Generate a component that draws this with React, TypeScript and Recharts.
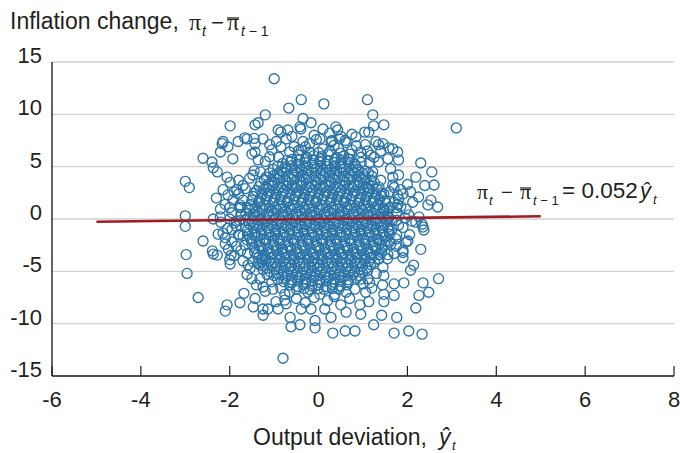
import { CartesianGrid, Scatter, ScatterChart, XAxis, YAxis } from "recharts";

type Pt = [number, number];

const xTicks = [-6, -4, -2, 0, 2, 4, 6, 8];
const yTicks = [-15, -10, -5, 0, 5, 10, 15];

// fitted line end points (slope 0.052)
const fitX = [-5, 5];
const fitY = [-0.26, 0.26];

// outlying points
const upperPoints: Pt[] = [
	[-1.0, 13.4], [-0.39, 11.4], [-0.67, 10.6], [0.12, 11.0], [1.1, 11.4], [-1.2, 9.95],
	[1.22, 9.95], [-1.99, 8.9], [-1.43, 9.0], [-1.36, 9.2], [1.24, 8.9], [1.47, 9.0],
	[1.13, 8.3], [3.1, 8.7], [-0.35, 9.6], [-0.17, 9.2], [-0.4, 8.6], [-0.42, 8.8],
	[0.1, 8.6], [0.03, 7.65], [-0.91, 8.5], [-0.85, 8.3], [-0.73, 7.65], [-0.69, 8.5],
	[0.39, 8.8], [0.43, 8.5], [0.47, 7.65], [0.84, 7.85], [1.04, 8.3], [-0.35, 7.4],
	[-0.39, 6.6], [0.28, 7.4], [-2.15, 7.4], [-2.17, 7.2], [-2.04, 6.9], [-1.81, 7.4],
	[-1.66, 7.75], [-1.61, 7.65], [-1.25, 7.65], [-1.43, 7.2], [-2.21, 6.4], [-1.93, 5.75],
	[-1.43, 6.4], [-1.36, 5.65], [1.35, 7.1], [1.58, 6.8], [1.78, 6.4], [1.8, 5.65],
	[1.56, 5.75], [1.29, 7.4], [1.45, 7.2], [1.67, 6.7], [1.18, 6.1], [1.35, 5.45],
	[-0.9, 5.9], [-0.65, 6.4], [0.7, 6.2], [0.95, 5.9], [1.15, 5.4], [-1.2, 5.5],
	[-0.3, 6.9], [0.1, 6.7], [0.45, 6.8], [0.85, 7.0], [-0.05, 7.6], [0.6, 7.5],
	[-1.5, 6.2], [-1.1, 7.1], [-0.55, 6.9], [0.3, 7.5], [0.62, 7.3], [1.1, 6.5],
	[-0.6, 7.9], [0.5, 7.9], [0.25, 8.2], [-0.1, 8.0], [0.75, 8.1], [-1.45, 7.7],
	[-1.05, 6.6], [-0.85, 6.9], [-0.7, 5.6], [-0.45, 6.55], [-0.2, 6.4], [0.0, 6.35],
	[0.25, 6.45], [0.5, 6.3], [0.75, 6.6], [0.95, 6.4], [1.05, 7.1], [-0.95, 7.4],
	[-0.2, 7.2], [0.35, 7.05], [0.7, 5.7], [-1.1, 5.95], [1.25, 5.9], [1.4, 6.5],
];

const leftPoints: Pt[] = [
	[-2.6, 5.8], [-2.4, 5.45], [-2.37, 4.9], [-2.28, 4.5], [-2.06, 4.0], [-1.99, 3.5],
	[-1.84, 2.8], [-2.04, 2.3], [-1.93, 1.8], [-1.77, 1.35], [-1.31, 4.5], [-1.48, 4.2],
	[-3.0, 3.6], [-2.91, 3.0], [-3.0, 0.3], [-3.0, -0.7], [-2.21, 0.95], [-2.21, 0.2],
	[-2.37, 0.0], [-2.6, -2.1], [-2.98, -3.4], [-2.96, -5.2], [-2.37, -3.35], [-2.28, -3.45],
	[-2.39, -3.05], [-2.26, -1.45], [-2.15, -1.35], [-2.03, -2.9], [-1.97, -3.45], [-1.99, -4.3],
	[-2.1, -2.4], [-1.95, -2.2], [-1.66, -2.5], [-1.61, -2.0], [-1.59, -4.4], [-1.32, -4.4],
	[-1.25, -4.8], [-2.3, 2.0], [-2.1, 1.4], [-1.95, 0.6], [-2.2, -0.3], [-2.05, -0.9],
	[-1.85, -0.2], [-1.75, 1.1], [-1.8, 2.4], [-1.7, -1.6], [-1.85, -2.6], [-1.7, 3.2],
	[-1.9, -3.5], [-1.75, 0.4], [-1.85, -0.7], [-1.7, 1.8], [-1.8, -1.5], [-1.65, 2.9],
	[-1.6, -3.3], [-1.55, 3.9], [-1.45, 4.6], [-1.35, -4.2], [-2.0, 1.1], [-1.95, -1.0],
	[-2.1, -1.8], [-2.0, 0.0], [-1.9, 2.6], [-2.15, 2.8], [-1.8, 3.7], [-2.0, -3.9],
	[-1.75, -3.0], [-1.7, -4.0], [-1.9, -0.4],
];

const rightPoints: Pt[] = [
	[2.3, 5.35], [2.55, 4.5], [2.19, 4.0], [2.39, 3.2], [2.6, 3.25], [1.8, 4.2],
	[1.67, 4.0], [2.07, 2.6], [2.25, 2.1], [2.53, 1.8], [2.68, 1.15], [2.46, 1.35],
	[1.78, 2.3], [1.8, 1.9], [1.62, 4.8], [1.22, 4.5], [1.4, 3.7], [1.67, 3.25],
	[1.13, 2.9], [1.47, 2.4], [1.9, 2.4], [2.12, 1.6], [1.78, 1.35], [1.47, 0.95],
	[1.97, 0.95], [1.52, 0.0], [2.19, -0.3], [2.26, 0.2], [2.03, 0.4], [2.35, -0.77],
	[2.33, -0.5], [2.37, -1.05], [2.3, -2.9], [2.01, -2.1], [1.9, -3.0], [2.14, -4.4],
	[2.07, -4.9], [2.7, -5.7], [2.35, -6.1], [2.48, -7.0], [2.26, -7.3], [1.8, -0.6],
	[1.9, -0.8], [1.74, -1.9], [1.97, -2.2], [1.63, -2.4], [1.56, -3.4], [1.9, -3.2],
	[1.36, -3.8], [1.6, 2.6], [1.7, 1.6], [1.55, 0.3], [1.75, 0.6], [1.65, -1.0],
	[1.6, -2.2], [1.7, -3.3], [1.45, -4.6], [1.3, -5.2], [1.55, -3.8], [1.85, 2.8],
	[1.7, 3.0], [1.95, 0.1], [2.05, -1.5], [1.85, 1.2], [2.0, 3.3], [1.9, -3.7],
	[1.75, -2.6], [2.1, -0.2],
];

const lowerPoints: Pt[] = [
	[-0.8, -13.3], [0.32, -10.9], [0.6, -10.7], [0.82, -10.7], [-0.62, -10.3], [-0.42, -10.1],
	[-0.08, -10.4], [-0.64, -9.4], [-0.39, -8.6], [-0.17, -8.6], [0.14, -8.6], [0.28, -9.4],
	[-0.08, -9.7], [0.62, -8.9], [0.93, -8.2], [0.95, -9.1], [-0.96, -7.9], [-0.91, -8.6],
	[-0.76, -7.75], [-0.73, -8.1], [-1.14, -8.6], [-1.03, -6.7], [-0.76, -7.2], [-0.24, -7.0],
	[0.03, -7.2], [0.37, -7.2], [0.62, -7.0], [0.82, -6.7], [1.0, -6.2], [-2.71, -7.5],
	[-2.06, -8.2], [-2.1, -8.8], [-1.77, -8.0], [-1.68, -7.1], [-1.43, -7.6], [-1.47, -8.4],
	[-1.25, -8.6], [-1.25, -9.2], [-1.5, -5.7], [-1.54, -4.7], [-1.61, -5.3], [-1.32, -5.7],
	[-1.25, -6.5], [-1.16, -5.3], [-1.47, -4.1], [-1.27, -3.8], [1.92, -6.1], [1.7, -6.2],
	[1.7, -7.3], [1.47, -5.4], [1.44, -6.3], [1.47, -7.2], [1.47, -7.9], [1.42, -9.2],
	[1.76, -9.4], [1.24, -10.1], [1.7, -10.9], [2.03, -10.7], [2.33, -11.0], [2.19, -8.5],
	[1.13, -7.9], [1.11, -5.7], [1.06, -7.0], [-0.5, -7.6], [-0.3, -8.0], [0.2, -7.8],
	[0.5, -8.2], [0.7, -7.6], [-0.1, -7.5], [0.35, -7.4], [-0.65, -7.0], [1.2, -6.6],
	[-1.2, -6.9], [-1.4, -6.3], [-1.05, -6.0], [-0.85, -6.6], [1.15, -6.1],
];

// dense middle of the cloud, estimated
const corePoints: Pt[] = [
	[-0.45, 6.1], [-0.27, 5.9], [-0.11, 6.05], [0.07, 5.95], [0.22, 6.15], [0.41, 5.85], [0.56, 6.0],
	[-0.81, 5.3], [-0.63, 5.45], [-0.46, 5.25], [-0.31, 5.4], [-0.14, 5.3], [0.03, 5.45], [0.17, 5.25],
	[0.35, 5.4], [0.5, 5.3], [0.67, 5.45], [0.81, 5.25], [0.96, 5.4],
	[-1.02, 4.75], [-0.85, 4.6], [-0.71, 4.8], [-0.53, 4.65], [-0.38, 4.75], [-0.23, 4.6], [-0.05, 4.8],
	[0.1, 4.65], [0.27, 4.75], [0.41, 4.6], [0.58, 4.8], [0.75, 4.65], [0.89, 4.75], [1.05, 4.6],
	[-1.18, 4.0], [-1.01, 4.15], [-0.87, 3.95], [-0.69, 4.1], [-0.55, 4.0], [-0.37, 4.15], [-0.22, 3.95],
	[-0.07, 4.1], [0.11, 4.0], [0.25, 4.15], [0.43, 3.95], [0.57, 4.1], [0.74, 4.0], [0.91, 4.15],
	[1.05, 3.95], [1.2, 4.1],
	[-1.3, 3.45], [-1.13, 3.3], [-0.99, 3.5], [-0.81, 3.35], [-0.67, 3.45], [-0.49, 3.3], [-0.35, 3.5],
	[-0.17, 3.35], [-0.03, 3.45], [0.15, 3.3], [0.29, 3.5], [0.47, 3.35], [0.61, 3.45], [0.79, 3.3],
	[0.93, 3.5], [1.11, 3.35], [1.26, 3.45],
	[-1.4, 2.7], [-1.23, 2.85], [-1.09, 2.65], [-0.91, 2.8], [-0.77, 2.7], [-0.59, 2.85], [-0.45, 2.65],
	[-0.27, 2.8], [-0.13, 2.7], [0.05, 2.85], [0.19, 2.65], [0.37, 2.8], [0.51, 2.7], [0.69, 2.85],
	[0.83, 2.65], [1.01, 2.8], [1.15, 2.7], [1.32, 2.85],
	[-1.47, 2.15], [-1.3, 2.0], [-1.16, 2.2], [-0.98, 2.05], [-0.84, 2.15], [-0.66, 2.0], [-0.52, 2.2],
	[-0.34, 2.05], [-0.2, 2.15], [-0.02, 2.0], [0.12, 2.2], [0.3, 2.05], [0.44, 2.15], [0.62, 2.0],
	[0.76, 2.2], [0.94, 2.05], [1.08, 2.15], [1.26, 2.0], [1.41, 2.2],
	[-1.52, 1.4], [-1.35, 1.55], [-1.21, 1.35], [-1.03, 1.5], [-0.89, 1.4], [-0.71, 1.55], [-0.57, 1.35],
	[-0.39, 1.5], [-0.25, 1.4], [-0.07, 1.55], [0.07, 1.35], [0.25, 1.5], [0.39, 1.4], [0.57, 1.55],
	[0.71, 1.35], [0.89, 1.5], [1.03, 1.4], [1.21, 1.55], [1.35, 1.35], [1.52, 1.5],
	[-1.56, 0.85], [-1.39, 0.7], [-1.25, 0.9], [-1.07, 0.75], [-0.93, 0.85], [-0.75, 0.7], [-0.61, 0.9],
	[-0.43, 0.75], [-0.29, 0.85], [-0.11, 0.7], [0.03, 0.9], [0.21, 0.75], [0.35, 0.85], [0.53, 0.7],
	[0.67, 0.9], [0.85, 0.75], [0.99, 0.85], [1.17, 0.7], [1.31, 0.9], [1.48, 0.75],
	[-1.6, 0.1], [-1.43, 0.25], [-1.29, 0.05], [-1.11, 0.2], [-0.97, 0.1], [-0.79, 0.25], [-0.65, 0.05],
	[-0.47, 0.2], [-0.33, 0.1], [-0.15, 0.25], [-0.01, 0.05], [0.17, 0.2], [0.31, 0.1], [0.49, 0.25],
	[0.63, 0.05], [0.81, 0.2], [0.95, 0.1], [1.13, 0.25], [1.27, 0.05], [1.45, 0.2], [1.58, 0.1],
	[-1.56, -0.45], [-1.39, -0.6], [-1.25, -0.4], [-1.07, -0.55], [-0.93, -0.45], [-0.75, -0.6],
	[-0.61, -0.4], [-0.43, -0.55], [-0.29, -0.45], [-0.11, -0.6], [0.03, -0.4], [0.21, -0.55],
	[0.35, -0.45], [0.53, -0.6], [0.67, -0.4], [0.85, -0.55], [0.99, -0.45], [1.17, -0.6],
	[1.31, -0.4], [1.48, -0.55],
	[-1.6, -1.1], [-1.43, -1.25], [-1.29, -1.05], [-1.11, -1.2], [-0.97, -1.1], [-0.79, -1.25],
	[-0.65, -1.05], [-0.47, -1.2], [-0.33, -1.1], [-0.15, -1.25], [-0.01, -1.05], [0.17, -1.2],
	[0.31, -1.1], [0.49, -1.25], [0.63, -1.05], [0.81, -1.2], [0.95, -1.1], [1.13, -1.25],
	[1.27, -1.05], [1.45, -1.2], [1.58, -1.1],
	[-1.54, -1.85], [-1.37, -1.7], [-1.23, -1.9], [-1.05, -1.75], [-0.91, -1.85], [-0.73, -1.7],
	[-0.59, -1.9], [-0.41, -1.75], [-0.27, -1.85], [-0.09, -1.7], [0.05, -1.9], [0.23, -1.75],
	[0.37, -1.85], [0.55, -1.7], [0.69, -1.9], [0.87, -1.75], [1.01, -1.85], [1.19, -1.7],
	[1.33, -1.9], [1.5, -1.75],
	[-1.5, -2.4], [-1.33, -2.55], [-1.19, -2.35], [-1.01, -2.5], [-0.87, -2.4], [-0.69, -2.55],
	[-0.55, -2.35], [-0.37, -2.5], [-0.23, -2.4], [-0.05, -2.55], [0.09, -2.35], [0.27, -2.5],
	[0.41, -2.4], [0.59, -2.55], [0.73, -2.35], [0.91, -2.5], [1.05, -2.4], [1.23, -2.55],
	[1.37, -2.35], [1.5, -2.5],
	[-1.44, -3.15], [-1.27, -3.0], [-1.13, -3.2], [-0.95, -3.05], [-0.81, -3.15], [-0.63, -3.0],
	[-0.49, -3.2], [-0.31, -3.05], [-0.17, -3.15], [0.01, -3.0], [0.15, -3.2], [0.33, -3.05],
	[0.47, -3.15], [0.65, -3.0], [0.79, -3.2], [0.97, -3.05], [1.11, -3.15], [1.29, -3.0],
	[1.42, -3.2],
	[-1.36, -3.7], [-1.19, -3.85], [-1.05, -3.65], [-0.87, -3.8], [-0.73, -3.7], [-0.55, -3.85],
	[-0.41, -3.65], [-0.23, -3.8], [-0.09, -3.7], [0.09, -3.85], [0.23, -3.65], [0.41, -3.8],
	[0.55, -3.7], [0.73, -3.85], [0.87, -3.65], [1.05, -3.8], [1.19, -3.7], [1.34, -3.85],
	[-1.24, -4.45], [-1.07, -4.3], [-0.93, -4.5], [-0.75, -4.35], [-0.61, -4.45], [-0.43, -4.3],
	[-0.29, -4.5], [-0.11, -4.35], [0.03, -4.45], [0.21, -4.3], [0.35, -4.5], [0.53, -4.35],
	[0.67, -4.45], [0.85, -4.3], [0.99, -4.5], [1.17, -4.35],
	[-1.1, -5.0], [-0.93, -5.15], [-0.79, -4.95], [-0.61, -5.1], [-0.47, -5.0], [-0.29, -5.15],
	[-0.15, -4.95], [0.03, -5.1], [0.17, -5.0], [0.35, -5.15], [0.49, -4.95], [0.67, -5.1],
	[0.81, -5.0], [0.99, -5.15], [1.1, -4.95],
	[-0.92, -5.75], [-0.75, -5.6], [-0.61, -5.8], [-0.43, -5.65], [-0.29, -5.75], [-0.11, -5.6],
	[0.03, -5.8], [0.21, -5.65], [0.35, -5.75], [0.53, -5.6], [0.67, -5.8], [0.85, -5.65], [0.94, -5.75],
	[-0.64, -6.3], [-0.47, -6.45], [-0.33, -6.25], [-0.15, -6.4], [-0.01, -6.3], [0.17, -6.45],
	[0.31, -6.25], [0.49, -6.4], [0.64, -6.3],
];

// second, offset layer of the dense middle, estimated
const coreFillPoints: Pt[] = [
	[-0.6, 5.7], [-0.43, 5.62], [-0.29, 5.76], [-0.11, 5.66], [0.05, 5.74], [0.2, 5.6], [0.37, 5.72],
	[0.51, 5.64], [0.67, 5.75],
	[-0.92, 5.05], [-0.75, 4.98], [-0.61, 5.1], [-0.43, 5.0], [-0.29, 5.08], [-0.11, 4.96], [0.05, 5.1],
	[0.19, 5.0], [0.37, 5.06], [0.51, 4.95], [0.69, 5.08], [0.84, 5.0],
	[-1.1, 4.4], [-0.93, 4.32], [-0.79, 4.46], [-0.61, 4.36], [-0.47, 4.44], [-0.29, 4.34], [-0.15, 4.46],
	[0.03, 4.36], [0.17, 4.44], [0.35, 4.32], [0.49, 4.46], [0.67, 4.38], [0.81, 4.44], [0.99, 4.34],
	[1.12, 4.42],
	[-1.22, 3.75], [-1.05, 3.68], [-0.91, 3.8], [-0.73, 3.7], [-0.59, 3.78], [-0.41, 3.68], [-0.27, 3.82],
	[-0.09, 3.72], [0.05, 3.8], [0.23, 3.68], [0.37, 3.78], [0.55, 3.7], [0.69, 3.82], [0.87, 3.72],
	[1.01, 3.78], [1.18, 3.7],
	[-1.34, 3.1], [-1.17, 3.02], [-1.03, 3.16], [-0.85, 3.06], [-0.71, 3.14], [-0.53, 3.02], [-0.39, 3.16],
	[-0.21, 3.06], [-0.07, 3.12], [0.11, 3.02], [0.25, 3.16], [0.43, 3.06], [0.57, 3.14], [0.75, 3.04],
	[0.89, 3.16], [1.07, 3.06], [1.21, 3.12], [1.36, 3.04],
	[-1.44, 2.45], [-1.27, 2.38], [-1.13, 2.5], [-0.95, 2.4], [-0.81, 2.48], [-0.63, 2.38], [-0.49, 2.52],
	[-0.31, 2.42], [-0.17, 2.48], [0.01, 2.38], [0.15, 2.52], [0.33, 2.42], [0.47, 2.48], [0.65, 2.38],
	[0.79, 2.5], [0.97, 2.4], [1.11, 2.48], [1.29, 2.38], [1.42, 2.5],
	[-1.5, 1.8], [-1.33, 1.72], [-1.19, 1.86], [-1.01, 1.76], [-0.87, 1.84], [-0.69, 1.72], [-0.55, 1.86],
	[-0.37, 1.76], [-0.23, 1.82], [-0.05, 1.72], [0.09, 1.86], [0.27, 1.76], [0.41, 1.84], [0.59, 1.72],
	[0.73, 1.86], [0.91, 1.76], [1.05, 1.82], [1.23, 1.72], [1.37, 1.86], [1.5, 1.76],
	[-1.78, 1.1], [-1.6, 1.12], [-1.43, 1.04], [-1.29, 1.16], [-1.11, 1.06], [-0.97, 1.14], [-0.79, 1.04],
	[-0.65, 1.16], [-0.47, 1.06], [-0.33, 1.14], [-0.15, 1.04], [-0.01, 1.16], [0.17, 1.06], [0.31, 1.14],
	[0.49, 1.04], [0.63, 1.16], [0.81, 1.06], [0.95, 1.14], [1.13, 1.04], [1.27, 1.16], [1.45, 1.06],
	[1.6, 1.12], [1.76, 1.08],
	[-1.64, 0.5], [-1.47, 0.44], [-1.33, 0.56], [-1.15, 0.46], [-1.01, 0.54], [-0.83, 0.44], [-0.69, 0.56],
	[-0.51, 0.46], [-0.37, 0.54], [-0.19, 0.44], [-0.05, 0.56], [0.13, 0.46], [0.27, 0.54], [0.45, 0.44],
	[0.59, 0.56], [0.77, 0.46], [0.91, 0.54], [1.09, 0.44], [1.23, 0.56], [1.41, 0.46], [1.56, 0.52],
	[-1.78, -0.15], [-1.66, -0.12], [-1.49, -0.2], [-1.35, -0.08], [-1.17, -0.18], [-1.03, -0.1],
	[-0.85, -0.2], [-0.71, -0.08], [-0.53, -0.18], [-0.39, -0.1], [-0.21, -0.2], [-0.07, -0.08],
	[0.11, -0.18], [0.25, -0.1], [0.43, -0.2], [0.57, -0.08], [0.75, -0.18], [0.89, -0.1], [1.07, -0.2],
	[1.21, -0.08], [1.39, -0.18], [1.54, -0.1], [1.66, -0.16], [1.76, -0.12],
	[-1.64, -0.8], [-1.47, -0.86], [-1.33, -0.74], [-1.15, -0.84], [-1.01, -0.76], [-0.83, -0.86],
	[-0.69, -0.74], [-0.51, -0.84], [-0.37, -0.76], [-0.19, -0.86], [-0.05, -0.74], [0.13, -0.84],
	[0.27, -0.76], [0.45, -0.86], [0.59, -0.74], [0.77, -0.84], [0.91, -0.76], [1.09, -0.86],
	[1.23, -0.74], [1.41, -0.84], [1.56, -0.78],
	[-1.78, -1.5], [-1.6, -1.44], [-1.43, -1.56], [-1.29, -1.46], [-1.11, -1.54], [-0.97, -1.44],
	[-0.79, -1.56], [-0.65, -1.46], [-0.47, -1.54], [-0.33, -1.44], [-0.15, -1.56], [-0.01, -1.46],
	[0.17, -1.54], [0.31, -1.44], [0.49, -1.56], [0.63, -1.46], [0.81, -1.54], [0.95, -1.44],
	[1.13, -1.56], [1.27, -1.46], [1.45, -1.54], [1.6, -1.46], [1.76, -1.52],
	[-1.5, -2.1], [-1.33, -2.16], [-1.19, -2.04], [-1.01, -2.14], [-0.87, -2.06], [-0.69, -2.16],
	[-0.55, -2.04], [-0.37, -2.14], [-0.23, -2.06], [-0.05, -2.16], [0.09, -2.04], [0.27, -2.14],
	[0.41, -2.06], [0.59, -2.16], [0.73, -2.04], [0.91, -2.14], [1.05, -2.06], [1.23, -2.16],
	[1.37, -2.04], [1.5, -2.12],
	[-1.44, -2.8], [-1.27, -2.74], [-1.13, -2.86], [-0.95, -2.76], [-0.81, -2.84], [-0.63, -2.74],
	[-0.49, -2.86], [-0.31, -2.76], [-0.17, -2.84], [0.01, -2.74], [0.15, -2.86], [0.33, -2.76],
	[0.47, -2.84], [0.65, -2.74], [0.79, -2.86], [0.97, -2.76], [1.11, -2.84], [1.29, -2.74],
	[1.42, -2.82],
	[-1.38, -3.4], [-1.21, -3.46], [-1.07, -3.34], [-0.89, -3.44], [-0.75, -3.36], [-0.57, -3.46],
	[-0.43, -3.34], [-0.25, -3.44], [-0.11, -3.36], [0.07, -3.46], [0.21, -3.34], [0.39, -3.44],
	[0.53, -3.36], [0.71, -3.46], [0.85, -3.34], [1.03, -3.44], [1.17, -3.36], [1.36, -3.42],
	[-1.28, -4.1], [-1.11, -4.04], [-0.97, -4.16], [-0.79, -4.06], [-0.65, -4.14], [-0.47, -4.04],
	[-0.33, -4.16], [-0.15, -4.06], [-0.01, -4.14], [0.17, -4.04], [0.31, -4.16], [0.49, -4.06],
	[0.63, -4.14], [0.81, -4.04], [0.95, -4.16], [1.13, -4.06], [1.26, -4.12],
	[-1.16, -4.7], [-0.99, -4.76], [-0.85, -4.64], [-0.67, -4.74], [-0.53, -4.66], [-0.35, -4.76],
	[-0.21, -4.64], [-0.03, -4.74], [0.11, -4.66], [0.29, -4.76], [0.43, -4.64], [0.61, -4.74],
	[0.75, -4.66], [0.93, -4.76], [1.08, -4.68],
	[-1.0, -5.4], [-0.83, -5.34], [-0.69, -5.46], [-0.51, -5.36], [-0.37, -5.44], [-0.19, -5.34],
	[-0.05, -5.46], [0.13, -5.36], [0.27, -5.44], [0.45, -5.34], [0.59, -5.46], [0.77, -5.36], [0.92, -5.42],
	[-0.78, -6.0], [-0.61, -6.06], [-0.47, -5.94], [-0.29, -6.04], [-0.15, -5.96], [0.03, -6.06],
	[0.17, -5.94], [0.35, -6.04], [0.49, -5.96], [0.66, -6.02],
	[-0.5, -6.7], [-0.33, -6.64], [-0.19, -6.76], [-0.01, -6.66], [0.13, -6.74], [0.31, -6.64], [0.46, -6.72],
];

const scatterData = [
	...corePoints,
	...coreFillPoints,
	...upperPoints,
	...leftPoints,
	...rightPoints,
	...lowerPoints,
].map(([x, y]) => ({ x, y }));
const fitData = fitX.map((x, i) => ({ x, y: fitY[i] }));

const FONT = '"Liberation Sans", Arial, Helvetica, sans-serif';
const SERIF = '"Liberation Serif", "Times New Roman", serif';
const INK = "#231f20";
const DOT = "#2a74a8";

const ring = (props: { cx?: number; cy?: number }) => (
	<circle cx={props.cx} cy={props.cy} r={5} fill="none" stroke={DOT} strokeWidth={1.35} />
);

const XTick = ({ x, y, payload }: { x: number; y: number; payload: { value: number } }) => (
	<g>
		<line x1={x} x2={x} y1={y} y2={y - 10} stroke={INK} strokeWidth={1.2} />
		<text x={x} y={y + 31} textAnchor="middle" fontFamily={FONT} fontSize={22} fill={INK}>
			{payload.value}
		</text>
	</g>
);

const YTick = ({ x, y, payload }: { x: number; y: number; payload: { value: number } }) => (
	<text x={x} y={y + 1} textAnchor="end" fontFamily={FONT} fontSize={22} fill={INK}>
		{payload.value}
	</text>
);

export default function App() {
	return (
		<div style={{ position: "absolute", left: 0, top: 0, width: 680, height: 453, background: "#fff" }}>
			<ScatterChart width={680} height={453} margin={{ top: 62, right: 6, bottom: 47, left: 0 }}>
				<CartesianGrid vertical={false} stroke="#d2d2d2" strokeWidth={1.3} />
				<XAxis
					type="number"
					dataKey="x"
					domain={[-6, 8]}
					ticks={xTicks}
					height={30}
					tickSize={0}
					tickMargin={0}
					tickLine={false}
					tick={XTick}
					stroke={INK}
					strokeWidth={1.4}
					allowDataOverflow
				/>
				<YAxis
					type="number"
					dataKey="y"
					domain={[-15, 15]}
					ticks={yTicks}
					width={52}
					tickSize={0}
					tickMargin={10}
					tickLine={false}
					tick={YTick}
					stroke={INK}
					strokeWidth={1.4}
					allowDataOverflow
				/>
				<Scatter data={scatterData} shape={ring} isAnimationActive={false} />
				<Scatter
					data={fitData}
					line={{ stroke: "#9e1d25", strokeWidth: 2.6 }}
					shape={() => <g />}
					isAnimationActive={false}
				/>
			</ScatterChart>
			<svg
				width={680}
				height={453}
				style={{ position: "absolute", left: 0, top: 0, pointerEvents: "none" }}
			>
				<g fontFamily={FONT} fill={INK}>
					<text x={10} y={29} fontSize={23}>Inflation change,</text>
					<text x={189} y={30} fontSize={24} fontFamily={SERIF}>π</text>
					<text x={202} y={36} fontSize={14} fontStyle="italic">t</text>
					<text x={211} y={30} fontSize={22}>−</text>
					<text x={227} y={30} fontSize={24} fontFamily={SERIF}>π</text>
					<line x1={227} x2={239} y1={18} y2={18} stroke={INK} strokeWidth={1.3} />
					<text x={241} y={36} fontSize={14}>
						<tspan fontStyle="italic">t</tspan> − 1
					</text>

					<text x={253} y={445} fontSize={23}>Output deviation,</text>
					<text x={439} y={445} fontSize={23} fontStyle="italic">ŷ</text>
					<text x={452} y={450} fontSize={13} fontStyle="italic">t</text>

					<text x={477} y={199} fontSize={22} fontFamily={SERIF}>π</text>
					<text x={489} y={205} fontSize={13} fontStyle="italic">t</text>
					<text x={501} y={199} fontSize={20}>−</text>
					<text x={520} y={199} fontSize={22} fontFamily={SERIF}>π</text>
					<line x1={520} x2={531} y1={188} y2={188} stroke={INK} strokeWidth={1.2} />
					<text x={533} y={205} fontSize={13}>
						<tspan fontStyle="italic">t</tspan> − 1
					</text>
					<text x={562} y={198} fontSize={22.5}>= 0.052</text>
					<text x={640} y={198} fontSize={22} fontStyle="italic">ŷ</text>
					<text x={653} y={204} fontSize={13} fontStyle="italic">t</text>
				</g>
			</svg>
		</div>
	);
}
